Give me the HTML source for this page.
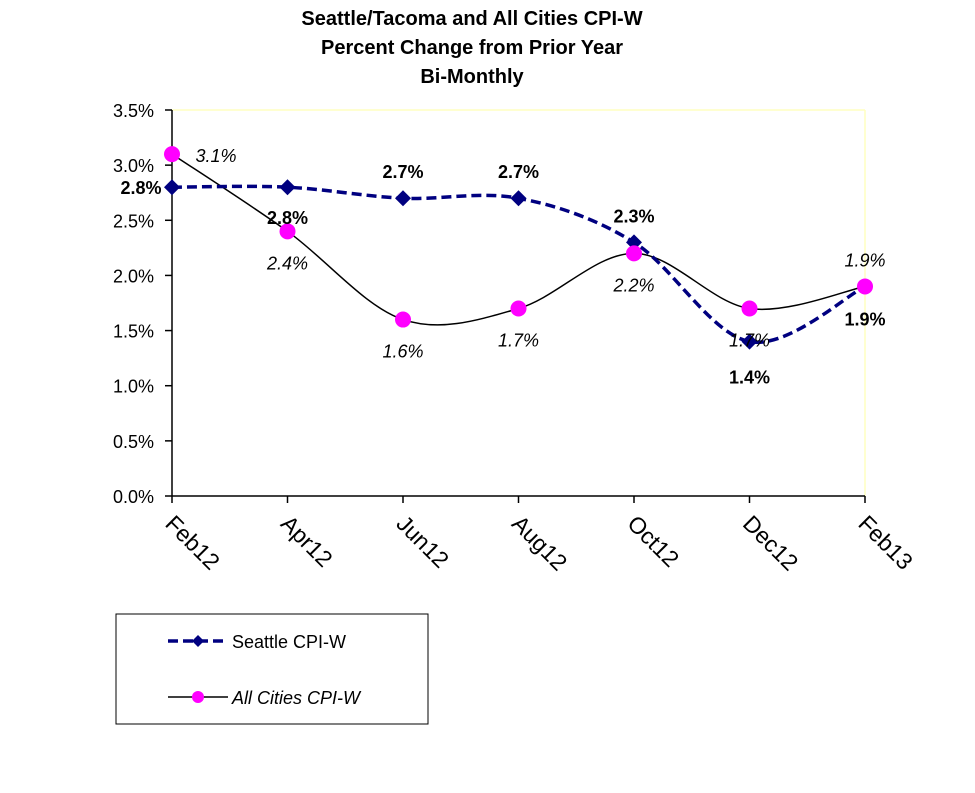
<!DOCTYPE html>
<html><head><meta charset="utf-8"><style>
body{margin:0;background:#fff;}
svg{display:block;font-family:"Liberation Sans",Arial,sans-serif;}
</style></head><body>
<svg id="c" width="975" height="793" viewBox="0 0 975 793">
<g font-weight="bold" font-size="20" text-anchor="middle" fill="#000">
<text x="472" y="25">Seattle/Tacoma and All Cities CPI-W</text>
<text x="472" y="54">Percent Change from Prior Year</text>
<text x="472" y="83">Bi-Monthly</text>
</g>
<line x1="172" y1="110" x2="865" y2="110" stroke="#ffffc0" stroke-width="1.5"/>
<line x1="865" y1="110" x2="865" y2="496" stroke="#ffffc0" stroke-width="1.5"/>
<g id="axes"></g>
<g id="series"></g>
<g id="labels"></g>
<g>
<rect x="116" y="614" width="312" height="110" fill="#fff" stroke="#000" stroke-width="1"/>
<g>
<line x1="168" y1="641" x2="228" y2="641" stroke="#000080" stroke-width="3.5" stroke-dasharray="10,5"/>
<path d="M198,635 L204,641 L198,647 L192,641 Z" fill="#000080"/>
<text x="232" y="648" font-size="18">Seattle CPI-W</text>
</g>
<g>
<line x1="168" y1="697" x2="228" y2="697" stroke="#000" stroke-width="1.5"/>
<circle cx="198" cy="697" r="6" fill="#ff00ff"/>
<text x="232" y="704" font-size="18" font-style="italic">All Cities CPI-W</text>
</g>
</g>
</svg>
<script>
const categories=["Feb12","Apr12","Jun12","Aug12","Oct12","Dec12","Feb13"];
const seattleValues=[2.8,2.8,2.7,2.7,2.3,1.4,1.9];
const allCitiesValues=[3.1,2.4,1.6,1.7,2.2,1.7,1.9];
const yTicks=[0,0.5,1.0,1.5,2.0,2.5,3.0,3.5];
const NS="http://www.w3.org/2000/svg";
const X0=172,X1=865,Y0=496,Y1=110,YMAX=3.5;
function xs(i){return X0+i*(X1-X0)/(categories.length-1);}
function ys(v){return Y0-v/YMAX*(Y0-Y1);}
function mk(t,a,p){const e=document.createElementNS(NS,t);for(const k in a)e.setAttribute(k,a[k]);p.appendChild(e);return e;}
const axes=document.getElementById('axes');
const yAxis=mk('line',{x1:X0,y1:Y1,x2:X0,y2:Y0,stroke:'#000','stroke-width':1.5},axes);


const xAxis=mk('line',{x1:X0,y1:Y0,x2:X1,y2:Y0,stroke:'#000','stroke-width':1.5},axes);


yTicks.forEach(v=>{
 const y=ys(v);
 mk('line',{x1:X0-7,y1:y,x2:X0,y2:y,stroke:'#000','stroke-width':1.5},axes);
 const t=mk('text',{x:X0-18,y:y+7,'font-size':18,'text-anchor':'end'},axes);
 t.textContent=v.toFixed(1)+'%';
 
 
});
categories.forEach((c,i)=>{
 const x=xs(i);
 mk('line',{x1:x,y1:Y0,x2:x,y2:Y0+7,stroke:'#000','stroke-width':1.5},axes);
 const t=mk('text',{x:x-8,y:Y0+29,'font-size':23,transform:`rotate(45 ${x-8} ${Y0+29})`},axes);
 t.textContent=c;
 
 
});
function smooth(pts){
 let d=`M${pts[0][0]},${pts[0][1]}`;
 for(let i=0;i<pts.length-1;i++){
  const p0=pts[Math.max(i-1,0)],p1=pts[i],p2=pts[i+1],p3=pts[Math.min(i+2,pts.length-1)];
  const k=1/6;
  d+=` C${p1[0]+(p2[0]-p0[0])*k},${p1[1]+(p2[1]-p0[1])*k} ${p2[0]-(p3[0]-p1[0])*k},${p2[1]-(p3[1]-p1[1])*k} ${p2[0]},${p2[1]}`;
 }
 return d;
}
const sg=document.getElementById('series');
const sPts=seattleValues.map((v,i)=>[xs(i),ys(v)]);
const aPts=allCitiesValues.map((v,i)=>[xs(i),ys(v)]);
const aLine=mk('path',{d:smooth(aPts),fill:'none',stroke:'#000','stroke-width':1.5},sg);


const sLine=mk('path',{d:smooth(sPts),fill:'none',stroke:'#000080','stroke-width':3.5,'stroke-dasharray':'10,5'},sg);


sPts.forEach(p=>{
 const m=mk('path',{d:`M${p[0]},${p[1]-8} L${p[0]+8},${p[1]} L${p[0]},${p[1]+8} L${p[0]-8},${p[1]} Z`,fill:'#000080'},sg);
 
 
});
aPts.forEach(p=>{
 const m=mk('circle',{cx:p[0],cy:p[1],r:8,fill:'#ff00ff'},sg);
 
 
});
const lg=document.getElementById('labels');
const sOff=[[-31,7],[0,37],[0,-20],[0,-20],[0,-20],[0,42],[0,39]];
const aOff=[[44,8],[0,38],[0,38],[0,38],[0,38],[0,38],[0,-20]];
seattleValues.forEach((v,i)=>{
 const t=mk('text',{x:sPts[i][0]+sOff[i][0],y:sPts[i][1]+sOff[i][1],'font-size':18,'font-weight':'bold','text-anchor':'middle'},lg);
 t.textContent=v.toFixed(1)+'%';
 
 
});
allCitiesValues.forEach((v,i)=>{
 const t=mk('text',{x:aPts[i][0]+aOff[i][0],y:aPts[i][1]+aOff[i][1],'font-size':18,'font-style':'italic','text-anchor':'middle'},lg);
 t.textContent=v.toFixed(1)+'%';
 
 
});
</script>
</body></html>
